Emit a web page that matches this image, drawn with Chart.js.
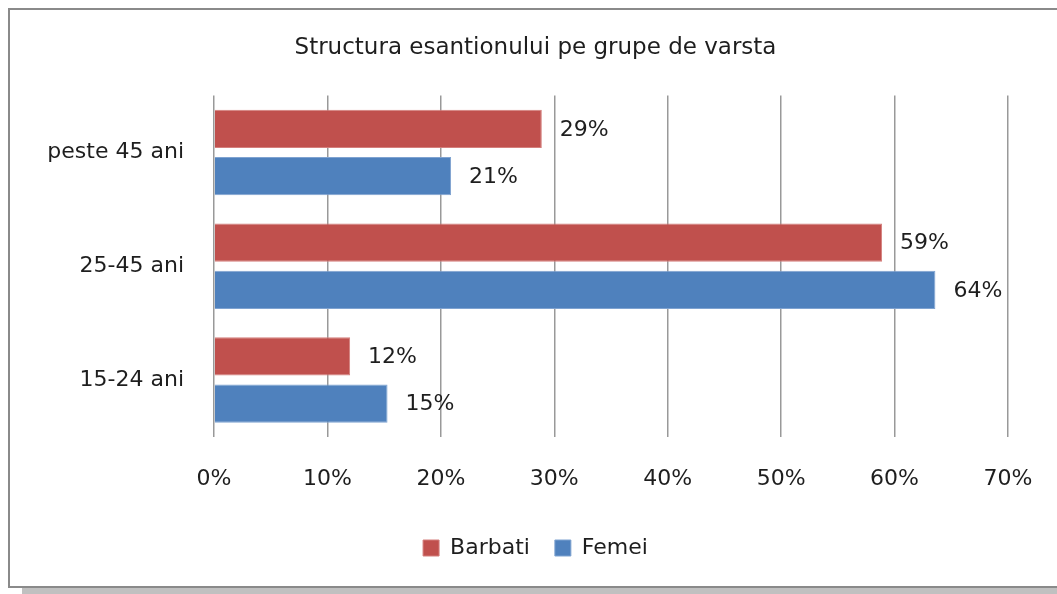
<!DOCTYPE html>
<html>
<head>
<meta charset="utf-8">
<script src="https://cdn.jsdelivr.net/npm/chart.js@4"></script>
<style>
  html, body { margin: 0; padding: 0; background: #fff; overflow: hidden; }
  #frame {
    position: absolute; left: 8px; top: 8px; width: 1080px; height: 576px;
    border: 2px solid #8a8a8a; background: #fff;
    box-shadow: 14px 7px 0 #c0c0c0;
  }
  #wrap { position: absolute; left: 0; top: 0; width: 1057px; height: 594px; }
</style>
</head>
<body>
<div id="frame"></div>
<div id="wrap"><canvas id="chart"></canvas></div>
<script>
const categories = ['peste 45 ani', '25-45 ani', '15-24 ani'];
const barbati = [28.9, 58.9, 12.0];
const femei = [20.9, 63.6, 15.3];
const xTicks = [0, 10, 20, 30, 40, 50, 60, 70];

const fontFamily = '"DejaVu Sans", sans-serif';

// draws the value labels to the right of each bar
const valueLabels = {
    id: 'valueLabels',
    afterDatasetsDraw(chart) {
        const ctx = chart.ctx;
        ctx.save();
        ctx.font = '22px ' + fontFamily;
        ctx.fillStyle = '#1e1e1e';
        ctx.textAlign = 'left';
        ctx.textBaseline = 'middle';
        chart.data.datasets.forEach((ds, i) => {
            chart.getDatasetMeta(i).data.forEach((bar, j) => {
                ctx.fillText(Math.round(ds.data[j]) + '%', bar.x + 18, bar.y + 1);
            });
        });
        ctx.restore();
    }
};

const data = {
    labels: categories,
    datasets: [{
        label: 'Barbati',
        data: barbati,
        backgroundColor: '#c0504d',
        borderColor: '#d47f7c',
        borderWidth: 1,
        categoryPercentage: 0.83,
        barPercentage: 0.81
    }, {
        label: 'Femei',
        data: femei,
        backgroundColor: '#4f81bd',
        borderColor: '#7fa3d1',
        borderWidth: 1,
        categoryPercentage: 0.83,
        barPercentage: 0.81
    }]
};

const config = {
    type: 'bar',
    data: data,
    options: {
        indexAxis: 'y',
        responsive: true,
        maintainAspectRatio: false,
        animation: false,
        layout: {
            padding: { left: 14, right: 0, top: 0, bottom: 25 }
        },
        scales: {
            x: {
                min: 0,
                max: 70,
                afterBuildTicks: (scale) => {
                    scale.ticks = xTicks.map(v => ({ value: v }));
                },
                afterFit: (scale) => {
                    scale.height = 75;
                    scale.paddingLeft = 0;
                    scale.paddingRight = 0;
                },
                grid: {
                    color: '#999',
                    lineWidth: 1.5,
                    drawTicks: false
                },
                border: { display: false },
                ticks: {
                    padding: 29,
                    color: '#1e1e1e',
                    font: { family: fontFamily, size: 22 },
                    callback: (v) => v + '%'
                }
            },
            y: {
                afterFit: (scale) => { scale.width = 200; },
                grid: { display: false, drawTicks: false, tickLength: 0 },
                border: { display: false },
                ticks: {
                    padding: 30,
                    color: '#1e1e1e',
                    font: { family: fontFamily, size: 22 }
                }
            },
            // empty right margin so the title centres on the whole box
            yRight: {
                type: 'linear',
                position: 'right',
                afterFit: (scale) => { scale.width = 49; },
                grid: { display: false, drawTicks: false },
                border: { display: false },
                ticks: { display: false }
            }
        },
        plugins: {
            legend: {
                position: 'bottom',
                labels: {
                    boxWidth: 16,
                    boxHeight: 16,
                    padding: 25,
                    color: '#1e1e1e',
                    font: { family: fontFamily, size: 22 }
                }
            },
            title: {
                display: true,
                text: 'Structura esantionului pe grupe de varsta',
                color: '#1e1e1e',
                font: { family: fontFamily, size: 23, weight: 'normal' },
                padding: { top: 34, bottom: 34 }
            },
            tooltip: { enabled: false }
        }
    },
    plugins: [valueLabels]
};

var myChart = new Chart(
    document.getElementById('chart').getContext('2d'),
    config
);
</script>
</body>
</html>
